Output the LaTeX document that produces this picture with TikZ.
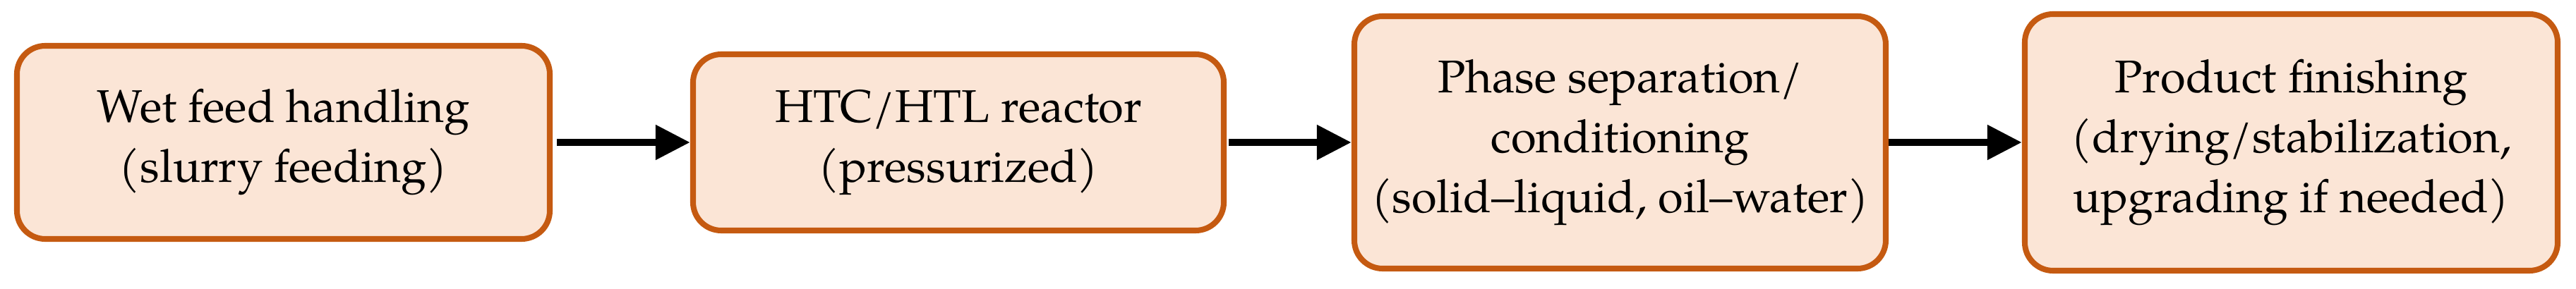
\documentclass[tikz,border=0pt]{standalone}
\usepackage{fontspec}
\setmainfont{TeX Gyre Pagella}
\usetikzlibrary{arrows.meta}
\definecolor{boxedge}{HTML}{C55A11}
\definecolor{boxfill}{HTML}{FBE5D6}
\tikzset{
  stepbox/.style={draw=boxedge, fill=boxfill, line width=2.3pt, rounded corners=0.4cm,
    inner sep=0pt, align=center, font=\fontsize{18.5}{24.2}\selectfont},
  flow/.style={line width=3.1pt, -{Triangle[length=0.49cm,width=0.47cm]}}
}
\begin{document}
\begin{tikzpicture}
\useasboundingbox (0,0) rectangle (36.5,4.1);
\node[stepbox, minimum width=7.55cm, minimum height=2.74cm] (b1) at (4.015,2.08) {Wet feed handling\\(slurry feeding)};
\node[stepbox, minimum width=7.52cm, minimum height=2.50cm] (b2) at (13.58,2.08) {HTC/HTL reactor\\(pressurized)};
\node[stepbox, minimum width=7.53cm, minimum height=3.58cm] (b3) at (22.955,2.08) {Phase separation/\\conditioning\\(solid--liquid, oil--water)};
\node[stepbox, minimum width=7.55cm, minimum height=3.64cm] (b4) at (32.465,2.08) {Product finishing\\(drying/stabilization,\\upgrading if needed)};
\draw[flow] ([xshift=0.06cm]b1.east) -- (b2.west);
\draw[flow] ([xshift=0.03cm]b2.east) -- (b3.west);
\draw[flow] (b3.east) -- (b4.west);
\end{tikzpicture}
\end{document}
